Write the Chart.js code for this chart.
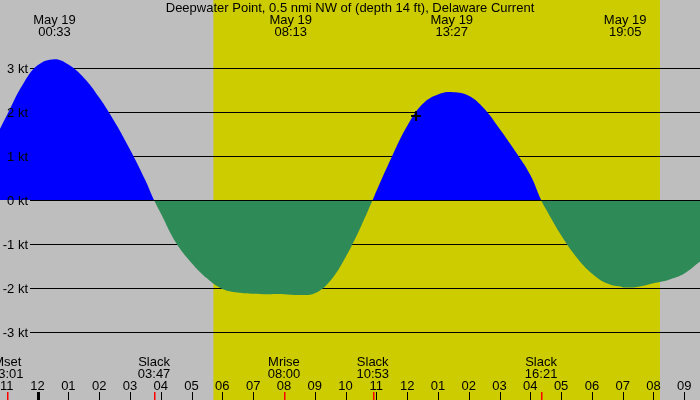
<!DOCTYPE html>
<html>
<head>
<meta charset="utf-8">
<script src="https://cdn.jsdelivr.net/npm/chart.js@4"></script>
<style>
html,body{margin:0;padding:0;background:#bebebe;}
#wrap{width:700px;height:400px;position:relative;}
</style>
</head>
<body>
<div id="wrap"><canvas id="c"></canvas></div>
<script>
// ---- data (hours since midnight May 19, current in knots) ----
const hours = [-1.22,-1.0,-0.5,0.0,0.55,1.0,1.5,2.0,2.5,3.0,3.5,3.78,
  4.0,4.5,5.0,5.5,6.0,6.5,7.0,7.5,8.0,8.5,9.0,9.5,10.0,10.5,10.88,
  11.0,11.5,12.0,12.5,13.0,13.5,14.0,14.5,15.0,15.5,16.0,16.35,
  16.5,17.0,17.5,18.0,18.5,19.0,19.14,19.5,20.0,20.5,21.0,21.51];
const knots = [1.62,1.92,2.6,3.06,3.2,3.08,2.78,2.33,1.78,1.15,0.45,0,
  -0.3,-0.98,-1.43,-1.78,-2.02,-2.1,-2.13,-2.14,-2.14,-2.16,-2.12,-1.84,-1.3,-0.6,0,
  0.2,0.98,1.68,2.18,2.4,2.45,2.37,2.08,1.62,1.12,0.57,0,
  -0.2,-0.8,-1.3,-1.67,-1.9,-1.98,-1.99,-1.97,-1.89,-1.81,-1.67,-1.4];

const titleText = "Deepwater Point, 0.5 nmi NW of (depth 14 ft), Delaware Current";
const peakTimes = [0.55, 8.22, 13.45, 19.08];
const peakDates = ["May 19","May 19","May 19","May 19"];
const peakLabels = ["00:33","08:13","13:27","19:05"];
const eventTimes = [-0.983, 3.783, 8.0, 10.883, 16.35];
const eventNames = ["Mset","Slack","Mrise","Slack","Slack"];
const eventLabels = ["23:01","03:47","08:00","10:53","16:21"];
const hourTicks = [-1,0,1,2,3,4,5,6,7,8,9,10,11,12,13,14,15,16,17,18,19,20,21];
const hourLabels = ["11","12","01","02","03","04","05","06","07","08","09","10","11","12","01","02","03","04","05","06","07","08","09"];
const gridValues = [3,2,1,0,-1,-2,-3];
const gridLabels = ["3 kt","2 kt","1 kt","0 kt","-1 kt","-2 kt","-3 kt"];
const sunrise = 5.71, sunset = 20.21;
const nowPoint = [{x:12.29, y:1.91}];

const FONT = "13px 'Liberation Sans', Arial, sans-serif";

const deco = {
  id:'deco',
  beforeDraw(chart){
    const ctx = chart.ctx, xs = chart.scales.x, ys = chart.scales.y;
    ctx.save();
    ctx.fillStyle = '#bebebe';
    ctx.fillRect(0,0,chart.width,chart.height);
    const a = xs.getPixelForValue(sunrise), b = xs.getPixelForValue(sunset);
    ctx.fillStyle = '#cccc00';
    ctx.fillRect(a,0,b-a,chart.height);
    ctx.strokeStyle = '#000'; ctx.lineWidth = 1;
    gridValues.forEach(v=>{
      if (v===0) return;
      const py = Math.round(ys.getPixelForValue(v))+0.5;
      ctx.beginPath(); ctx.moveTo(30,py); ctx.lineTo(chart.width,py); ctx.stroke();
    });
    ctx.restore();
  },
  afterDatasetsDraw(chart){
    const ctx = chart.ctx, xs = chart.scales.x, ys = chart.scales.y;
    ctx.save();
    ctx.strokeStyle = '#000'; ctx.lineWidth = 1;
    const z = Math.round(ys.getPixelForValue(0))+0.5;
    ctx.beginPath(); ctx.moveTo(30,z); ctx.lineTo(chart.width,z); ctx.stroke();
    ctx.font = FONT; ctx.fillStyle = '#000';
    ctx.textAlign = 'right'; ctx.textBaseline = 'middle';
    gridValues.forEach((v,i)=>{
      ctx.fillText(gridLabels[i], 28, ys.getPixelForValue(v)+1);
    });
    ctx.textAlign = 'center';
    ctx.fillText(titleText, 350, 8);
    peakTimes.forEach((t,i)=>{
      const px = xs.getPixelForValue(t);
      ctx.fillText(peakDates[i], px, 20);
      ctx.fillText(peakLabels[i], px, 32);
    });
    eventTimes.forEach((t,i)=>{
      const px = xs.getPixelForValue(t);
      ctx.fillText(eventNames[i], px, 362);
      ctx.fillText(eventLabels[i], px, 374);
    });
    hourTicks.forEach((h,i)=>{
      const px = xs.getPixelForValue(h);
      ctx.fillStyle = '#000';
      ctx.fillText(hourLabels[i], px, 386);
      const rx = Math.round(px);
      if (h===0) ctx.fillRect(rx-1,392,3,8);
      else ctx.fillRect(rx,392,1,8);
    });
    ctx.fillStyle = '#ff0000';
    eventTimes.forEach(t=>{
      const rx = Math.round(xs.getPixelForValue(t));
      ctx.fillRect(rx,392,1.5,8);
    });
    ctx.restore();
  }
};

new Chart(document.getElementById('c'), {
  type:'line',
  data:{
    datasets:[{
      data: nowPoint,
      order:0,
      showLine:false,
      pointStyle:'cross',
      pointRadius:5,
      borderWidth:2,
      borderColor:'#000',
      backgroundColor:'#000',
      fill:false
    },{
      data: hours.map((h,i)=>({x:h, y:knots[i]})),
      order:1,
      borderWidth:0,
      borderColor:'rgba(0,0,0,0)',
      pointRadius:0,
      pointHoverRadius:0,
      tension:0.4,
      fill:{target:{value:0}, above:'#0000ff', below:'#2e8b57'}
    }]
  },
  options:{
    responsive:true,
    maintainAspectRatio:false,
    animation:false,
    layout:{padding:0, autoPadding:false},
    plugins:{legend:{display:false}, tooltip:{enabled:false}, title:{display:false}},
    scales:{
      x:{type:'linear', min:-1.22, max:21.51, display:false},
      y:{type:'linear', min:-4.545, max:4.545, display:false}
    }
  },
  plugins:[deco]
});
</script>
</body>
</html>
